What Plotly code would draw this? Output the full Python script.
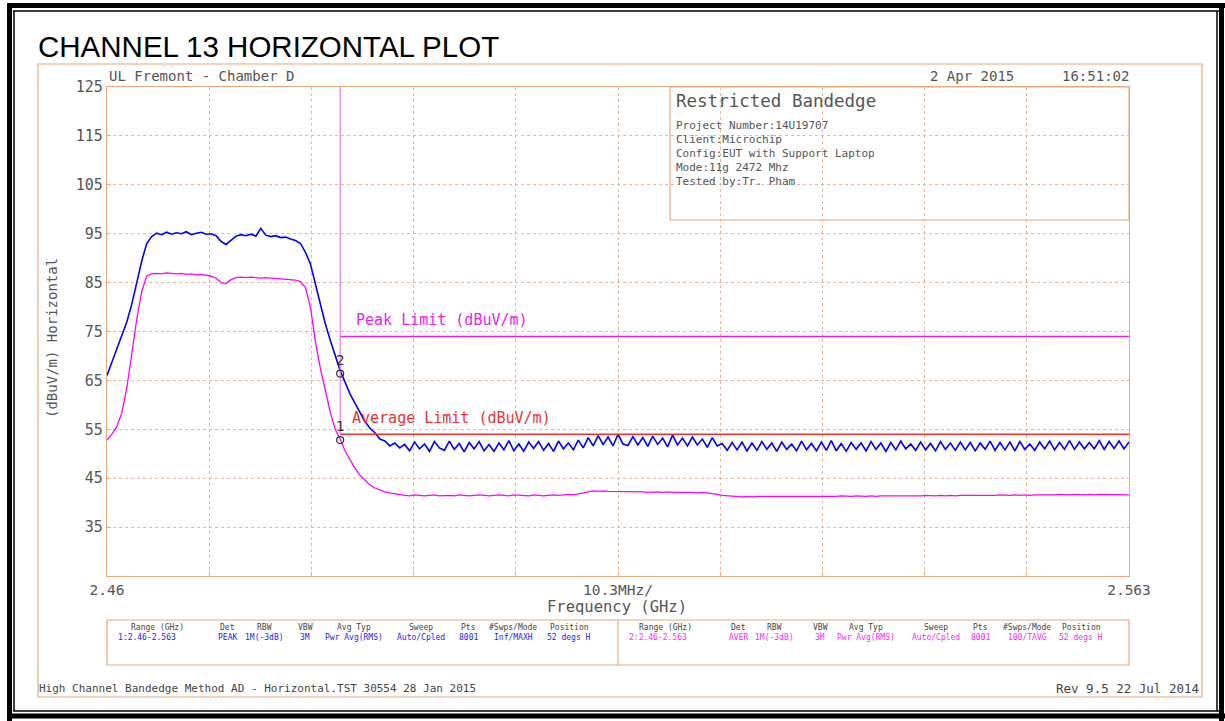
import numpy as np
import plotly.graph_objects as go

# ---------------- data ----------------
f_start, f_stop = 2.46, 2.563          # GHz sweep
x_div = 0.0103                          # 10.3 MHz / div

peak_trace = [
    66.0, 68.8, 71.5, 74.2, 77.0, 80.6, 85.0, 89.4, 93.0, 94.4,
    95.1, 94.8, 95.3, 94.9, 95.2, 95.0, 95.4, 94.8, 95.1, 95.3,
    94.9, 95.0, 94.6, 93.4, 92.8, 93.6, 94.5, 94.8, 94.6, 94.9,
    94.5, 96.1, 94.7, 94.4, 94.6, 94.2, 94.3, 93.9, 93.6, 93.0,
    91.2, 88.8, 84.6, 80.2, 76.6, 73.2, 70.1, 67.0, 64.6, 62.2,
    60.3, 58.4, 56.6, 55.2, 54.3, 53.0, 52.6, 51.6, 52.2, 51.2,
    51.9, 50.6, 52.4, 51.0, 52.0, 50.5, 52.5, 51.2, 50.7, 52.6,
    50.9, 52.1, 50.4, 52.3, 51.0, 52.5, 50.6, 51.9, 50.5, 52.2,
    50.8, 52.7, 50.6, 52.0, 50.5, 52.4, 51.1, 52.5, 50.7, 52.1,
    50.5, 52.6, 51.0, 52.2, 50.8, 52.8, 51.2,
    53.3, 51.6, 53.7, 51.9, 53.4, 51.6, 54.0, 52.0, 51.7, 53.5,
    51.8, 53.3, 51.5, 53.6, 51.9, 53.2, 51.4, 53.8, 51.8, 53.2,
    51.6, 53.4, 51.8, 53.0, 51.3, 53.3, 51.6,
    52.1, 50.7, 52.3, 50.8, 52.4, 50.6, 52.2, 50.7, 52.5, 50.9,
    52.2, 50.5, 52.4, 50.9, 52.0, 50.6, 52.6, 50.8, 52.1, 50.6,
    52.4, 50.7, 52.7, 50.6, 52.1, 50.5, 52.3, 50.9, 52.2, 50.6,
    52.5, 50.9, 52.2, 50.5, 52.3, 50.8, 52.6, 51.0, 52.0, 50.7,
    52.4, 50.8, 52.1, 50.6, 52.5, 50.9, 52.2, 50.7, 52.4, 50.8,
    52.3, 50.6, 52.2, 50.9, 52.6, 50.7, 52.3, 50.8, 52.4, 50.6,
    52.5, 50.9, 52.0, 50.7, 52.4, 51.0, 52.6, 50.8, 52.3, 50.9,
    52.7, 50.9, 52.4, 51.0, 52.3, 51.0, 52.7, 50.9, 52.5, 51.1,
    52.6, 51.0, 52.4,
]

avg_trace = [
    52.8, 54.0, 55.6, 58.4, 63.5, 70.5, 77.5, 83.2, 86.3, 86.8,
    86.9, 86.8, 87.0, 86.9, 86.8, 86.9, 86.7, 86.8, 86.6, 86.7,
    86.5, 86.3, 85.9, 85.0, 84.8, 85.6, 86.0, 86.1, 86.0, 86.1,
    86.0, 85.9, 86.0, 85.9, 85.8, 85.8, 85.7, 85.6, 85.5, 85.2,
    84.0, 80.0, 73.0, 67.5, 63.0, 58.5, 55.0, 53.0, 50.5, 48.7,
    47.0, 45.6, 44.5, 43.6, 43.0, 42.6, 42.2, 42.0, 41.8, 41.6,
    41.5, 41.4, 41.6, 41.5, 41.4, 41.5, 41.6, 41.4, 41.5, 41.5,
    41.4, 41.6, 41.5, 41.4, 41.5, 41.6, 41.5, 41.4, 41.5, 41.6,
    41.5, 41.4, 41.6, 41.5, 41.5, 41.4, 41.6, 41.5, 41.4, 41.5,
    41.6, 41.5, 41.6, 41.7, 41.6, 41.8, 42.0,
    42.3, 42.4, 42.3, 42.4, 42.3, 42.3, 42.2, 42.3, 42.2, 42.3,
    42.2, 42.2, 42.1, 42.2, 42.2, 42.1, 42.2, 42.1, 42.1, 42.2,
    42.1, 42.1, 42.0, 42.1, 42.0, 41.9, 41.7,
    41.5, 41.4, 41.3, 41.3, 41.2, 41.3, 41.2, 41.3, 41.3, 41.2,
    41.3, 41.2, 41.3, 41.3, 41.2, 41.3, 41.3, 41.2, 41.3, 41.2,
    41.3, 41.3, 41.2, 41.3, 41.4, 41.3, 41.3, 41.4, 41.3, 41.3,
    41.4, 41.3, 41.4, 41.4, 41.3, 41.4, 41.4, 41.4, 41.3, 41.4,
    41.4, 41.5, 41.4, 41.4, 41.5, 41.4, 41.5, 41.4, 41.5, 41.5,
    41.4, 41.5, 41.5, 41.4, 41.5, 41.5, 41.6, 41.5, 41.5, 41.6,
    41.5, 41.6, 41.5, 41.6, 41.6, 41.5, 41.6, 41.6, 41.7, 41.6,
    41.6, 41.7, 41.6, 41.6, 41.7, 41.6, 41.7, 41.7, 41.6, 41.7,
    41.6, 41.7, 41.6,
]

freq = np.linspace(f_start, f_stop, len(peak_trace))

peak_limit = 74
avg_limit = 54
marker_freq = 2.4835
marker_peak = 66.4
marker_avg = 52.8
marker_labels = ["2", "1"]

y_min, y_max = 25, 125
y_ticks = [35, 45, 55, 65, 75, 85, 95, 105, 115, 125]
x_ticks = [f_start + k * x_div for k in range(11)]
x_ticktext = ["2.46", "", "", "", "", "10.3MHz/", "", "", "", "", "2.563"]

title = "CHANNEL 13 HORIZONTAL PLOT"
site = "UL Fremont - Chamber D"
date_str = "2 Apr 2015"
time_str = "16:51:02"
info_title = "Restricted Bandedge"
info_lines = ["Project Number:14U19707", "Client:Microchip",
              "Config:EUT with Support Laptop", "Mode:11g 2472 Mhz",
              "Tested by:Tr. Pham"]
tbl_headers = ["Range (GHz)", "Det", "RBW", "VBW", "Avg Typ", "Sweep",
               "Pts", "#Swps/Mode", "Position"]
tbl_row1 = ["1:2.46-2.563", "PEAK", "1M(-3dB)", "3M", "Pwr Avg(RMS)",
            "Auto/Cpled", "8001", "Inf/MAXH", "52 degs H"]
tbl_row2 = ["2:2.46-2.563", "AVER", "1M(-3dB)", "3M", "Pwr Avg(RMS)",
            "Auto/Cpled", "8001", "100/TAVG", "52 degs H"]
footer_left = "High Channel Bandedge Method AD - Horizontal.TST 30554 28 Jan 2015"
footer_right = "Rev 9.5 22 Jul 2014"

# ---------------- layout helpers (pixel -> paper) ----------------
W, H = 1225, 721
PL, PR, PT, PB = 107, 1129, 87, 576


def X(px):
    return (px - PL) / (PR - PL)


def Y(py):
    return (PB - py) / (PB - PT)


def fx(px):  # pixel -> frequency
    return f_start + (px - PL) / (PR - PL) * (f_stop - f_start)


ORANGE = "#eba878"
GRID = "#efb690"
GRAY = "#555555"
MONO = "DejaVu Sans Mono"
BLUE = "#0000ff"
MAG = "#ff00ff"

fig = go.Figure()

fig.add_trace(go.Scatter(x=freq, y=avg_trace, mode="lines",
                         line=dict(color=MAG, width=1.3), hoverinfo="skip"))
fig.add_trace(go.Scatter(x=freq, y=peak_trace, mode="lines",
                         line=dict(color=BLUE, width=1.6), hoverinfo="skip"))
# limits
fig.add_trace(go.Scatter(x=[marker_freq, f_stop], y=[peak_limit, peak_limit],
                         mode="lines", line=dict(color="#e81ee8", width=1.5)))
fig.add_trace(go.Scatter(x=[marker_freq, f_stop], y=[avg_limit, avg_limit],
                         mode="lines", line=dict(color="#f03030", width=1.5)))
fig.add_trace(go.Scatter(x=[marker_freq, marker_freq], y=[y_max, avg_limit],
                         mode="lines", line=dict(color="#ee77ee", width=1.2)))
# markers
fig.add_trace(go.Scatter(x=[marker_freq, marker_freq], y=[marker_peak, marker_avg],
                         mode="markers+text", text=marker_labels,
                         textposition="top center",
                         textfont=dict(family=MONO, size=14, color="#333333"),
                         marker=dict(symbol="circle-open", size=7,
                                     color="#333333", line=dict(width=1.2))))

annotations = []


def txt(text, px, py, size, color=GRAY, xanchor="left", family=MONO, **kw):
    annotations.append(dict(text=text, x=X(px), y=Y(py), xref="paper",
                            yref="paper", showarrow=False, xanchor=xanchor,
                            yanchor="middle",
                            font=dict(family=family, size=size, color=color),
                            **kw))


txt(title, 36, 47, 29.5, color="#000000", family="Liberation Sans")
txt(site, 107, 76, 14)
txt(date_str, 1016, 76, 14, xanchor="right")
txt(time_str, 1131, 76, 14, xanchor="right")
txt("(dBuV/m) Horizontal", 52, 338, 14, xanchor="center", textangle=-90)
txt("Frequency (GHz)", 617, 607, 15.5, xanchor="center")

# limit labels in data coordinates
annotations.append(dict(text="Peak Limit (dBuV/m)", x=fx(354), y=peak_limit + 3.3,
                        xref="x", yref="y", showarrow=False, xanchor="left",
                        font=dict(family=MONO, size=15, color="#e81ee8")))
annotations.append(dict(text="Average Limit (dBuV/m)", x=fx(350), y=avg_limit + 3.4,
                        xref="x", yref="y", showarrow=False, xanchor="left",
                        font=dict(family=MONO, size=15, color="#f03030")))

# info box
txt(info_title, 674, 101, 17.5)
for k, line in enumerate(info_lines):
    txt(line, 674, 125 + 14 * k, 11)

# table
left_cols = [157, 227, 264, 305, 354, 421, 468, 513, 569]
right_cols = [665, 738, 774, 820, 866, 936, 980, 1027, 1081]
for hdr, c in zip(tbl_headers, left_cols):
    txt(hdr, c, 627, 8, color="#444444", xanchor="center")
for hdr, c in zip(tbl_headers, right_cols):
    txt(hdr, c, 627, 8, color="#444444", xanchor="center")
for k, (v, c) in enumerate(zip(tbl_row1, left_cols)):
    if k == 0:
        txt(v, 116, 637, 8, color="#1a1aff")
    else:
        txt(v, c, 637, 8, color="#1a1aff", xanchor="center")
for k, (v, c) in enumerate(zip(tbl_row2, right_cols)):
    if k == 0:
        txt(v, 627, 637, 8, color="#ff22ff")
    else:
        txt(v, c, 637, 8, color="#ff22ff", xanchor="center")

txt(footer_left, 37, 688, 11, color="#444444")
txt(footer_right, 1201, 688, 12.5, color="#444444", xanchor="right")

shapes = []


def rect(x0, y0, x1, y1, color, width, fill="rgba(0,0,0,0)", layer="above"):
    shapes.append(dict(type="rect", xref="paper", yref="paper",
                       x0=X(x0), x1=X(x1), y0=Y(y0), y1=Y(y1),
                       line=dict(color=color, width=width), fillcolor=fill,
                       layer=layer))


def hline(x0, x1, y, color, width):
    shapes.append(dict(type="line", xref="paper", yref="paper",
                       x0=X(x0), x1=X(x1), y0=Y(y), y1=Y(y),
                       line=dict(color=color, width=width)))


def vline(x, y0, y1, color, width):
    shapes.append(dict(type="line", xref="paper", yref="paper",
                       x0=X(x), x1=X(x), y0=Y(y0), y1=Y(y1),
                       line=dict(color=color, width=width)))


# black page frame
hline(7, 1225, 5.5, "#000000", 5)
vline(9.5, 3, 721, "#000000", 5)
hline(7, 1225, 716, "#000000", 5)
vline(1221.5, 3, 721, "#000000", 5)
hline(13, 1219, 11, "#000000", 1.5)
vline(14, 11, 711, "#000000", 1.5)
hline(13, 1219, 711, "#000000", 1.5)
vline(1217, 11, 711, "#000000", 1.5)

# orange frames
rect(38, 64, 1202, 697, ORANGE, 1.2)
rect(670, 87, 1129, 220, ORANGE, 1.2, fill="#ffffff", layer="below")
rect(107, 620, 1129, 665, ORANGE, 1.2)
vline(618, 620, 665, ORANGE, 1.2)

fig.update_layout(
    width=W, height=H, autosize=False,
    margin=dict(l=PL, r=W - PR, t=PT, b=H - PB, pad=0),
    paper_bgcolor="#ffffff", plot_bgcolor="#ffffff",
    showlegend=False,
    annotations=annotations, shapes=shapes,
    xaxis=dict(range=[f_start, f_stop], tickvals=x_ticks, ticktext=x_ticktext,
               showgrid=True, gridcolor=GRID, griddash="dot", gridwidth=1,
               showline=True, linecolor=ORANGE, linewidth=1.2, mirror=True,
               ticks="inside", ticklen=4, tickcolor=ORANGE, zeroline=False,
               tickfont=dict(family=MONO, size=14.5, color=GRAY)),
    yaxis=dict(range=[y_min, y_max], tickvals=y_ticks,
               ticktext=[str(v) for v in y_ticks],
               showgrid=True, gridcolor=GRID, griddash="dot", gridwidth=1,
               showline=True, linecolor=ORANGE, linewidth=1.2, mirror=True,
               ticks="inside", ticklen=4, tickcolor=ORANGE, zeroline=False,
               tickfont=dict(family=MONO, size=15, color=GRAY)),
)

fig.write_html("out.html", config={"displayModeBar": False},
               post_script="document.body.style.margin='0';")
